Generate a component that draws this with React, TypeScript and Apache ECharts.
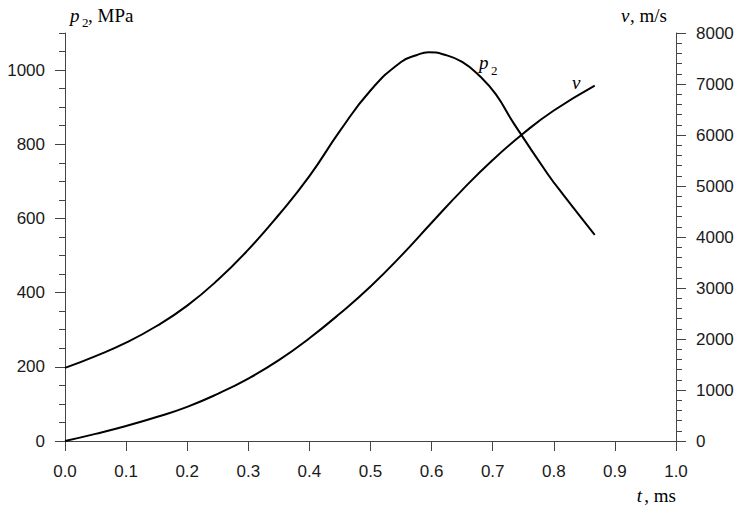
import React, { useEffect, useRef } from "react";
import * as echarts from "echarts";

// p2 (MPa) vs t (ms)
const tP = [0, 0.05, 0.1, 0.15, 0.2, 0.25, 0.3, 0.35, 0.4, 0.45, 0.5, 0.55, 0.575, 0.595, 0.62, 0.65, 0.68, 0.705, 0.735, 0.79, 0.815, 0.867];
const p2Values = [197, 229, 265, 310, 365, 434, 516, 610, 714, 836, 945, 1022, 1040, 1048, 1042, 1022, 982, 935, 855, 720, 665, 556];

// v (m/s) vs t (ms)
const tV = [0, 0.05, 0.1, 0.15, 0.2, 0.25, 0.3, 0.35, 0.4, 0.45, 0.5, 0.55, 0.6, 0.65, 0.7, 0.75, 0.8, 0.867];
const vValues = [0, 140, 294, 470, 670, 925, 1225, 1585, 2015, 2500, 3030, 3630, 4280, 4920, 5510, 6030, 6480, 6970];

const leftMajorTicks = [0, 200, 400, 600, 800, 1000];
const leftMax = 1100;
const leftMinorStep = 50;
const rightMax = 8000;
const rightStep = 1000;
const xMax = 1.0;
const xStep = 0.1;

const AXIS = "#444";
const TEXT = "#1a1a1a";
const SANS = "'Liberation Sans', Arial, sans-serif";
const SERIF = "'Liberation Serif', 'Times New Roman', serif";

export default function App() {
  const ref = useRef<HTMLDivElement>(null);
  useEffect(() => {
    if (!ref.current) return;
    const chart = echarts.init(ref.current, undefined, { renderer: "svg" });
    const lbl = { fontSize: 17, fontFamily: SANS, color: TEXT, margin: 20 };
    const t = (x: number, y: number, text: string, size: number, italic: boolean, align = "left") => ({
      type: "text",
      x,
      y,
      style: {
        text,
        fill: "#000",
        font: `${italic ? "italic " : ""}${size}px ${SERIF}`,
        textAlign: align,
        textVerticalAlign: "middle",
      },
    });
    chart.setOption({
      animation: false,
      backgroundColor: "#fff",
      grid: { left: 65, right: 64, top: 33, bottom: 68, containLabel: false },
      xAxis: [
        {
          type: "value",
          min: 0,
          max: xMax,
          interval: xStep,
          position: "bottom",
          axisLine: { show: true, lineStyle: { color: AXIS, width: 1 } },
          axisTick: { show: true, length: 10, lineStyle: { color: AXIS } },
          axisLabel: { ...lbl, margin: 22, formatter: (v: number) => v.toFixed(1) },
          splitLine: { show: false },
        },
        {
          type: "value",
          min: 0,
          max: xMax,
          position: "top",
          axisLine: { show: true, lineStyle: { color: AXIS, width: 1 } },
          axisTick: { show: false },
          axisLabel: { show: false },
          splitLine: { show: false },
        },
      ],
      yAxis: [
        {
          type: "value",
          min: 0,
          max: leftMax,
          interval: 200,
          position: "left",
          axisLine: { show: true, lineStyle: { color: AXIS, width: 1 } },
          axisTick: { show: true, length: 10, lineStyle: { color: AXIS }, customValues: leftMajorTicks },
          axisLabel: { ...lbl, customValues: leftMajorTicks, formatter: (v: number) => String(v) },
          splitLine: { show: false },
        },
        {
          type: "value",
          min: 0,
          max: leftMax,
          interval: leftMinorStep,
          position: "left",
          axisLine: { show: false },
          axisTick: { show: true, length: 6, lineStyle: { color: AXIS } },
          axisLabel: { show: false },
          splitLine: { show: false },
        },
        {
          type: "value",
          min: 0,
          max: rightMax,
          interval: rightStep,
          position: "right",
          axisLine: { show: true, lineStyle: { color: AXIS, width: 1 } },
          axisTick: { show: true, length: 10, lineStyle: { color: AXIS } },
          minorTick: { show: true, splitNumber: 5, length: 6, lineStyle: { color: AXIS } },
          axisLabel: { ...lbl, formatter: (v: number) => String(v) },
          splitLine: { show: false },
        },
      ],
      series: [
        {
          type: "line",
          name: "p2",
          xAxisIndex: 0,
          yAxisIndex: 0,
          data: tP.map((x, i) => [x, p2Values[i]]),
          smooth: 0.5,
          showSymbol: false,
          lineStyle: { color: "#000", width: 2 },
        },
        {
          type: "line",
          name: "v",
          xAxisIndex: 0,
          yAxisIndex: 2,
          data: tV.map((x, i) => [x, vValues[i]]),
          smooth: 0.5,
          showSymbol: false,
          lineStyle: { color: "#000", width: 2 },
        },
      ],
      graphic: [
        t(70, 15, "p", 19, true),
        t(82, 22, "2", 13, false),
        t(88, 15, ", MPa", 19, false),
        t(621, 15, "v", 19, true),
        t(630, 15, ", m/s", 19, false),
        t(479, 62, "p", 19, true),
        t(491, 70, "2", 13, false),
        t(572, 82, "v", 19, true),
        t(642, 495, "t", 19, true, "right"),
        t(676, 495, ", ms", 19, false, "right"),
      ],
    });
    return () => chart.dispose();
  }, []);
  return <div ref={ref} style={{ width: 740, height: 509, position: "absolute", left: 0, top: 0 }} />;
}
